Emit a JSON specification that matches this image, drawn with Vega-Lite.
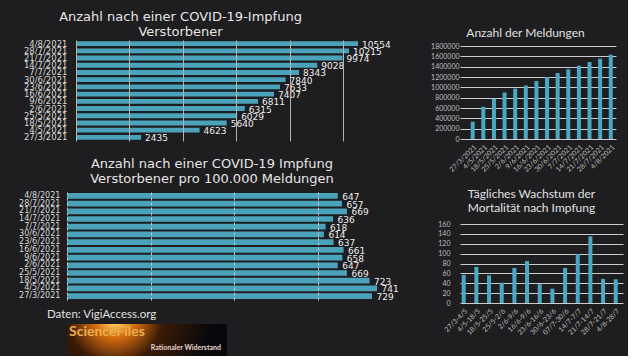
{
  "$schema": "https://vega.github.io/schema/vega-lite/v6.json",
  "background": "#1e1d1f",
  "padding": {"left": 18, "top": 11, "right": 5, "bottom": 0},
  "config": {"view": {"stroke": null}},
  "datasets": {
    "deaths": [
      {"tag": "4/8/2021", "tote": 10554, "rate": 647},
      {"tag": "28/7/2021", "tote": 10215, "rate": 657},
      {"tag": "21/7/2021", "tote": 9974, "rate": 669},
      {"tag": "14/7/2021", "tote": 9028, "rate": 636},
      {"tag": "7/7/2021", "tote": 8343, "rate": 618},
      {"tag": "30/6/2021", "tote": 7840, "rate": 614},
      {"tag": "23/6/2021", "tote": 7633, "rate": 637},
      {"tag": "16/6/2021", "tote": 7407, "rate": 661},
      {"tag": "9/6/2021", "tote": 6811, "rate": 658},
      {"tag": "2/6/2021", "tote": 6315, "rate": 647},
      {"tag": "25/5/2021", "tote": 6029, "rate": 669},
      {"tag": "18/5/2021", "tote": 5640, "rate": 723},
      {"tag": "4/5/2021", "tote": 4623, "rate": 741},
      {"tag": "27/3/2021", "tote": 2435, "rate": 729}
    ],
    "reports": [
      {"tag": "27/3/2021", "meldungen": 334000},
      {"tag": "4/5/2021", "meldungen": 624000},
      {"tag": "18/5/2021", "meldungen": 780000},
      {"tag": "25/5/2021", "meldungen": 901000},
      {"tag": "2/6/2021", "meldungen": 976000},
      {"tag": "9/6/2021", "meldungen": 1035000},
      {"tag": "16/6/2021", "meldungen": 1121000},
      {"tag": "23/6/2021", "meldungen": 1198000},
      {"tag": "30/6/2021", "meldungen": 1277000},
      {"tag": "7/7/2021", "meldungen": 1350000},
      {"tag": "14/7/2021", "meldungen": 1419000},
      {"tag": "21/7/2021", "meldungen": 1491000},
      {"tag": "28/7/2021", "meldungen": 1555000},
      {"tag": "4/8/2021", "meldungen": 1631000}
    ],
    "growth": [
      {"zeitraum": "27/3-4/5", "wachstum": 57},
      {"zeitraum": "4/5-18/5", "wachstum": 73},
      {"zeitraum": "18/5-25/5", "wachstum": 56},
      {"zeitraum": "25/5-2/6", "wachstum": 41},
      {"zeitraum": "2/6-9/6", "wachstum": 71},
      {"zeitraum": "16/6-9/6", "wachstum": 85},
      {"zeitraum": "23/6-16/6", "wachstum": 38},
      {"zeitraum": "30/6-23/6", "wachstum": 29},
      {"zeitraum": "07/7-30/6", "wachstum": 71},
      {"zeitraum": "14/7-7/7", "wachstum": 99},
      {"zeitraum": "21/7-14/7", "wachstum": 135},
      {"zeitraum": "28/7-21/7", "wachstum": 49},
      {"zeitraum": "4/8-28/7", "wachstum": 48}
    ]
  },
  "spacing": 31,
  "hconcat": [
    {
      "spacing": 5,
      "vconcat": [
        {
          "spacing": 14,
          "vconcat": [
            {
              "width": 303,
              "height": 101,
              "title": {"text": ["Anzahl nach einer COVID-19-Impfung", "Verstorbener"], "font": "DejaVu Sans", "fontSize": 13, "fontWeight": "normal", "color": "#e6e6e6", "anchor": "middle", "dx": -38, "offset": -13, "baseline": "bottom", "lineHeight": 15},
              "data": {"name": "deaths"},
              "encoding": {
                "y": {"field": "tag", "type": "nominal", "sort": null, "scale": {"paddingInner": 0.33, "paddingOuter": 0.165}, "axis": {"title": null, "ticks": false, "domain": false, "labelPadding": 0, "labelFont": "DejaVu Sans", "labelFontSize": 8.5, "labelColor": "#d8d8d8"}},
                "x": {"field": "tote", "type": "quantitative", "scale": {"domain": [-337, 11000], "nice": false, "zero": false}, "axis": {"title": null, "labels": false, "ticks": false, "domain": false, "grid": true, "gridColor": "#b4b4b4", "gridWidth": 1, "values": [0, 2000, 4000, 6000, 8000, 10000], "zindex": 1}}
              },
              "layer": [
                {"mark": {"type": "bar", "color": "#4aa3ba"}},
                {"mark": {"type": "text", "align": "left", "baseline": "middle", "dx": 4, "dy": 1, "font": "DejaVu Sans", "fontSize": 9, "color": "#eeeeee"}, "encoding": {"text": {"field": "tote", "type": "quantitative", "format": "d"}}}
              ]
            },
            {
              "width": 318,
              "height": 108,
              "title": {"text": ["Anzahl nach einer COVID-19 Impfung", "Verstorbener pro 100.000 Meldungen"], "font": "DejaVu Sans", "fontSize": 13, "fontWeight": "normal", "color": "#e6e6e6", "anchor": "middle", "dx": -14, "offset": -8, "baseline": "bottom", "lineHeight": 15},
              "data": {"name": "deaths"},
              "encoding": {
                "y": {"field": "tag", "type": "nominal", "sort": null, "scale": {"paddingInner": 0.26, "paddingOuter": 0.13}, "axis": {"title": null, "ticks": false, "domain": false, "labelPadding": 7, "labelFont": "DejaVu Sans", "labelFontSize": 8.1, "labelColor": "#d8d8d8"}},
                "x": {"field": "rate", "type": "quantitative", "scale": {"domain": [0, 760], "nice": false}, "axis": {"title": null, "labels": false, "ticks": false, "domain": false, "grid": true, "gridColor": "#c4c4c4", "gridWidth": 1, "gridDash": [3, 2], "values": [0, 200, 400, 600], "zindex": 1}}
              },
              "layer": [
                {"mark": {"type": "bar", "color": "#4aa3ba"}},
                {"mark": {"type": "text", "align": "left", "baseline": "middle", "dx": 4.5, "dy": 1, "font": "DejaVu Sans", "fontSize": 9, "color": "#eeeeee"}, "encoding": {"text": {"field": "rate", "type": "quantitative", "format": "d"}}}
              ]
            }
          ]
        },
        {
          "width": 160,
          "height": 32,
          "title": {"text": "Daten: VigiAccess.org", "font": "Lato", "fontSize": 11.5, "fontWeight": "normal", "color": "#e0e0e0", "anchor": "start", "dx": -20, "offset": -7, "baseline": "bottom"},
          "layer": [
            {"data": {"values": [{}]}, "mark": {"type": "rect", "color": {"gradient": "radial", "x1": 0.3, "y1": 0.35, "r1": 0, "x2": 0.3, "y2": 0.35, "r2": 0.6, "stops": [{"offset": 0, "color": "#fffbe0"}, {"offset": 0.07, "color": "#ffd060"}, {"offset": 0.22, "color": "#d86e10"}, {"offset": 0.5, "color": "#3a1a06"}, {"offset": 1, "color": "#08080c"}]}}, "encoding": {}},
            {"data": {"values": [{"t": "ScienceFiles"}]}, "mark": {"type": "text", "align": "left", "baseline": "middle", "dx": -78, "dy": -8, "font": "Lato", "fontSize": 14, "fontWeight": "bold", "color": "#e9b050"}, "encoding": {"text": {"field": "t", "type": "nominal"}}},
            {"data": {"values": [{"t": "Rationaler Widerstand"}]}, "mark": {"type": "text", "align": "right", "baseline": "middle", "dx": 74, "dy": 7.5, "font": "Lato", "fontSize": 7, "fontWeight": "bold", "color": "#e8d8c8"}, "encoding": {"text": {"field": "t", "type": "nominal"}}}
          ]
        }
      ]
    },
    {
      "spacing": 14,
      "vconcat": [
        {
          "width": 156,
          "height": 99,
          "title": {"text": "Anzahl der Meldungen", "font": "Lato", "fontSize": 12, "fontWeight": "normal", "color": "#e0e0e0", "anchor": "middle", "dx": -12.5, "offset": -12, "baseline": "bottom"},
          "data": {"name": "reports"},
          "mark": {"type": "bar", "color": "#4aa8c4"},
          "encoding": {
            "x": {"field": "tag", "type": "nominal", "sort": null, "scale": {"paddingInner": 0.623, "paddingOuter": 0.656, "align": 0.768}, "axis": {"title": null, "labelAngle": -45, "labelFont": "Lato", "labelFontSize": 7, "labelColor": "#bdbdbd", "ticks": false, "domain": false, "labelPadding": 4}},
            "y": {"field": "meldungen", "type": "quantitative", "scale": {"domain": [0, 1916129], "nice": false}, "axis": {"title": null, "values": [0, 200000, 400000, 600000, 800000, 1000000, 1200000, 1400000, 1600000, 1800000], "format": "d", "labelFont": "Lato", "labelFontSize": 7, "labelColor": "#bdbdbd", "ticks": false, "domain": false, "labelPadding": 1, "grid": true, "gridColor": "#cccccc", "gridWidth": 1}}
          }
        },
        {
          "width": 163,
          "height": 79,
          "title": {"text": ["Tägliches Wachstum der", "Mortalität nach Impfung"], "font": "Lato", "fontSize": 12, "fontWeight": "normal", "color": "#e0e0e0", "anchor": "middle", "dx": -10, "offset": -7, "baseline": "bottom", "lineHeight": 14.5},
          "data": {"name": "growth"},
          "mark": {"type": "bar", "color": "#4aa8c4"},
          "encoding": {
            "x": {"field": "zeitraum", "type": "nominal", "sort": null, "scale": {"paddingInner": 0.684, "paddingOuter": 0.274, "align": 0.243}, "axis": {"title": null, "labelAngle": -45, "labelFont": "Lato", "labelFontSize": 7, "labelColor": "#bdbdbd", "ticks": false, "domain": false, "labelPadding": 4}},
            "y": {"field": "wachstum", "type": "quantitative", "scale": {"domain": [0, 160], "nice": false}, "axis": {"title": null, "values": [0, 20, 40, 60, 80, 100, 120, 140, 160], "format": "d", "labelFont": "Lato", "labelFontSize": 7, "labelColor": "#bdbdbd", "ticks": false, "domain": false, "labelPadding": 10, "grid": true, "gridColor": "#cccccc", "gridWidth": 1}}
          }
        }
      ]
    }
  ]
}
